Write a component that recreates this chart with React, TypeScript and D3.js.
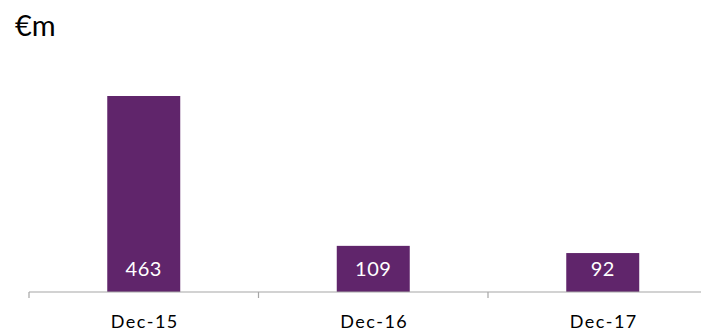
import React from "react";
import * as d3 from "d3";

const categories = ["Dec-15", "Dec-16", "Dec-17"];
const values = [463, 109, 92];
const unitLabel = "€m";

export default function App() {
  const width = 701;
  const height = 332;
  const x0 = 29;
  const step = 229.5;
  const pad = 0.682;
  const x = d3
    .scaleBand<string>()
    .domain(categories)
    .range([x0, x0 + step * categories.length])
    .paddingInner(pad)
    .paddingOuter(pad / 2);
  const baseY = 292;
  const y = d3.scaleLinear().domain([0, 463]).range([baseY, 96]);
  const tickXs = d3.range(categories.length + 1).map((i) => x0 + i * step);
  const font = "Lato, 'Liberation Sans', Arial, sans-serif";

  return (
    <svg
      width={width}
      height={height}
      style={{ position: "absolute", left: 0, top: 0, background: "#fff" }}
    >
      <text x={15} y={36} fontFamily={font} fontSize={29} fill="#000">
        {unitLabel}
      </text>
      {categories.map((c, i) => (
        <g key={c}>
          <rect
            x={x(c)}
            y={y(values[i])}
            width={x.bandwidth()}
            height={baseY - y(values[i])}
            fill="#60256b"
          />
          <text
            x={(x(c) as number) + x.bandwidth() / 2}
            y={276}
            textAnchor="middle"
            fontFamily={font}
            fontSize={20}
            letterSpacing={0.5}
            fill="#fff"
          >
            {values[i]}
          </text>
          <text
            x={(x(c) as number) + x.bandwidth() / 2 + 1}
            y={328}
            textAnchor="middle"
            fontFamily={font}
            fontSize={18}
            letterSpacing={1.5}
            fill="#000"
          >
            {c}
          </text>
        </g>
      ))}
      <line x1={x0} x2={width} y1={baseY} y2={baseY} stroke="#a6a6a6" strokeWidth={1.2} />
      {tickXs.map((tx, i) => (
        <line key={i} x1={tx} x2={tx} y1={baseY} y2={298} stroke="#a6a6a6" strokeWidth={1.2} />
      ))}
    </svg>
  );
}
